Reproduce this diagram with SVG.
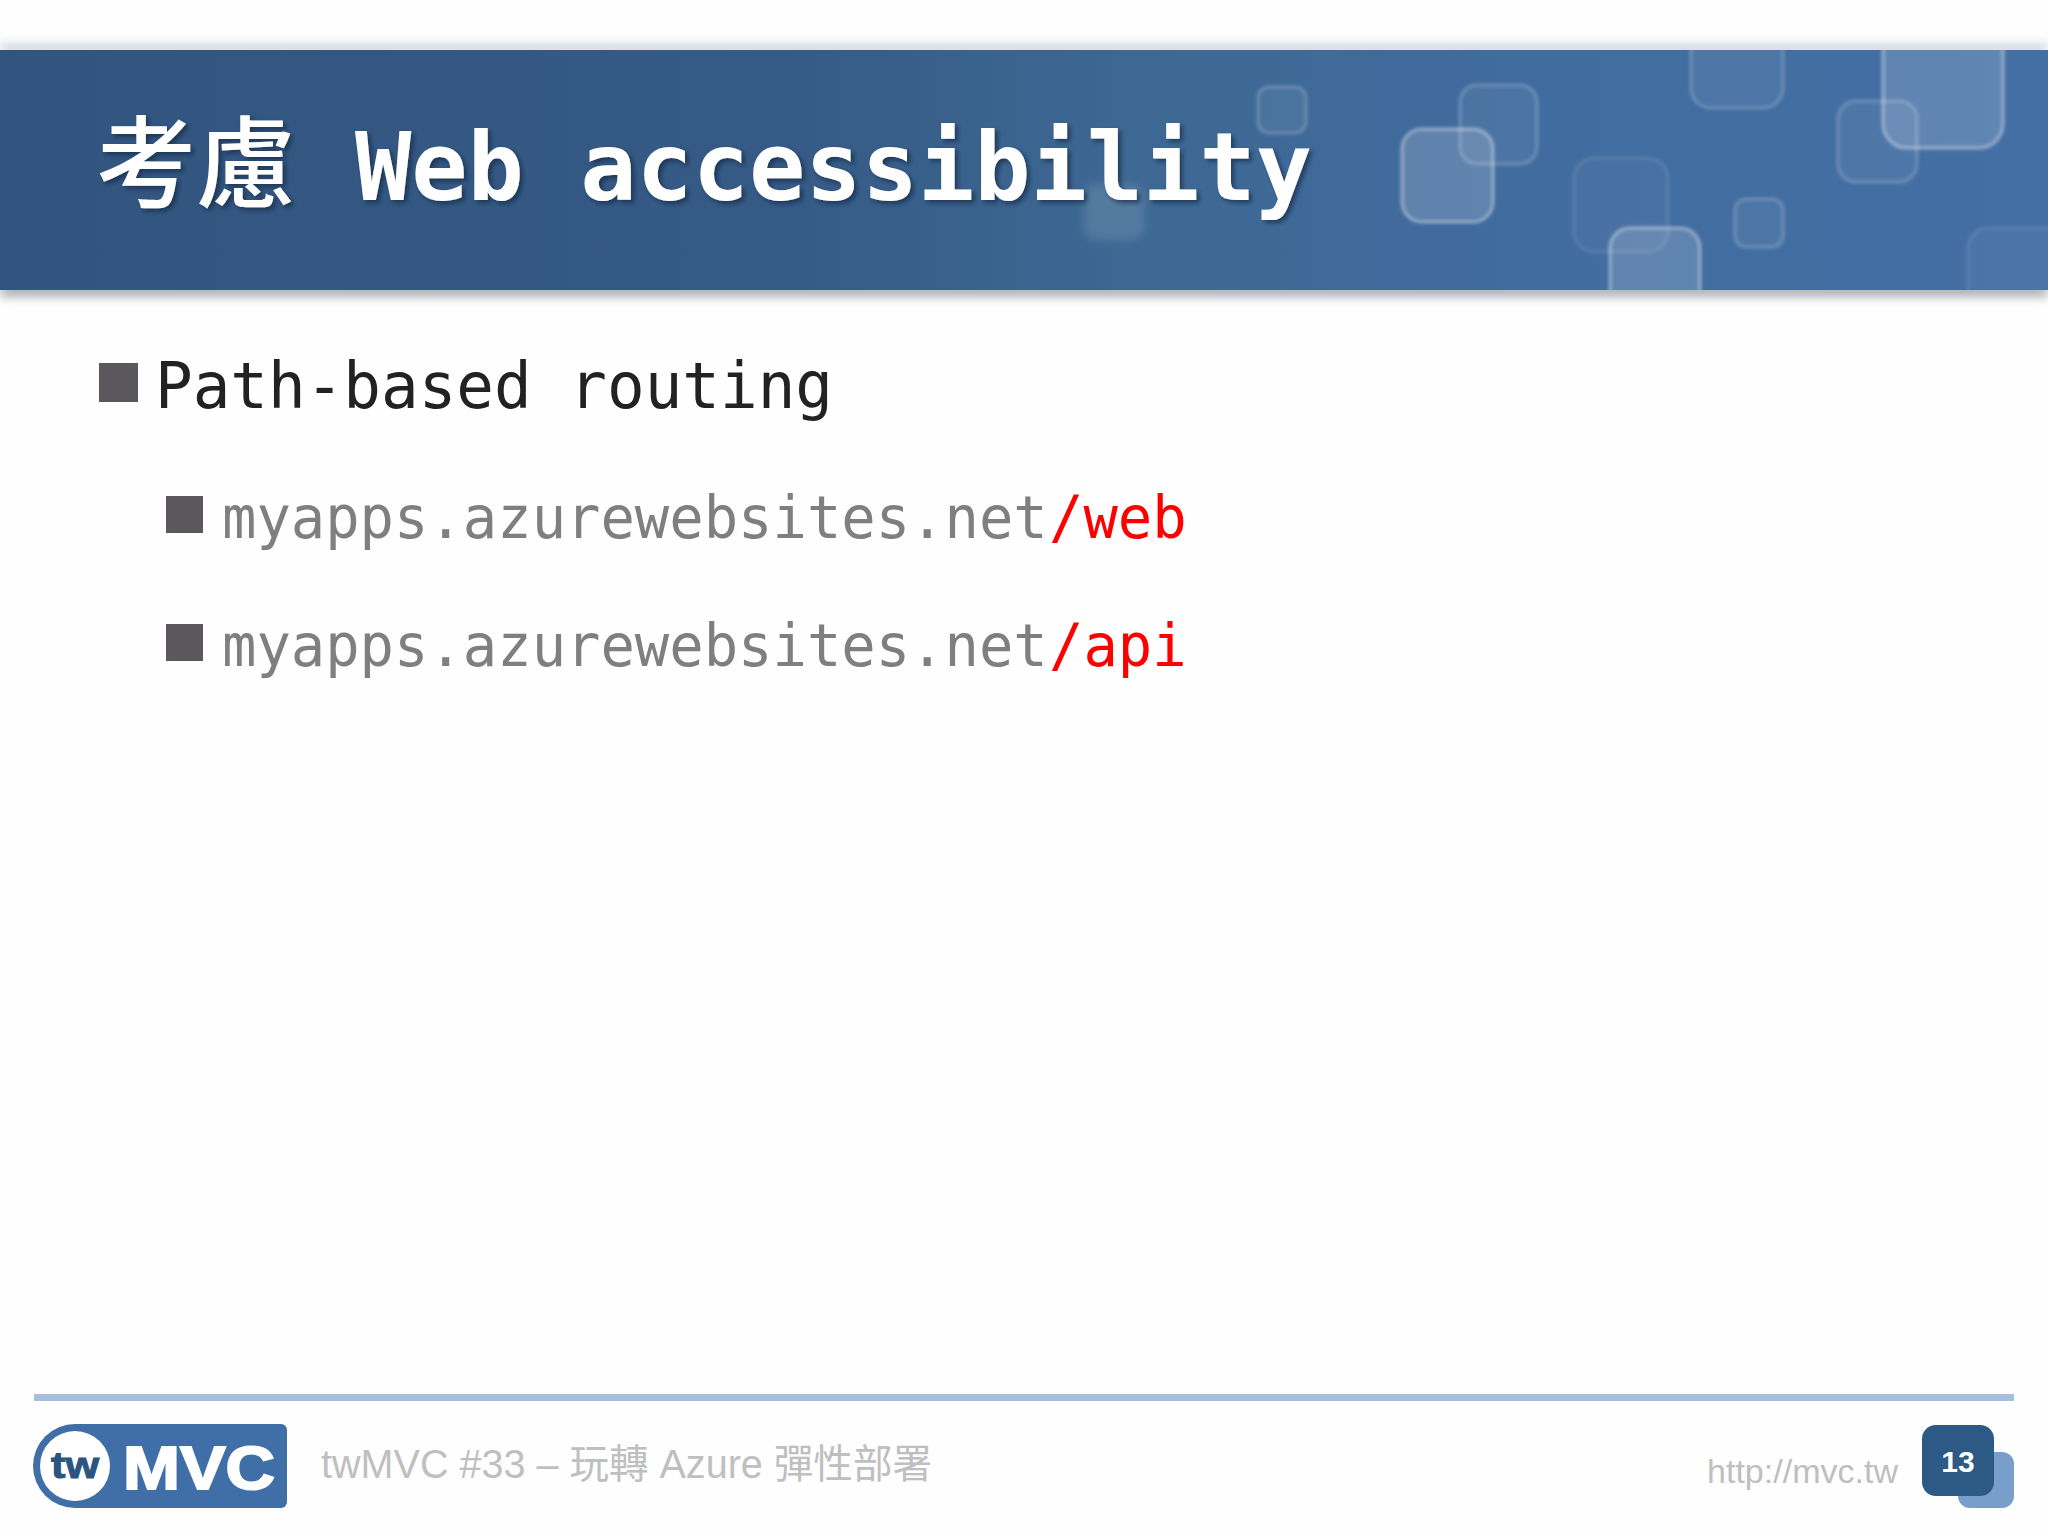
<svg xmlns="http://www.w3.org/2000/svg" width="2048" height="1536" viewBox="0 0 2048 1536">
<style>
.mono{font-family:"DejaVu Sans Mono","Liberation Mono","Noto Sans CJK TC",monospace}
.sans{font-family:"Liberation Sans","Noto Sans CJK TC",sans-serif}
.body{font-size:64px}
.sub{font-size:59px;fill:#7f7f7f}
.red{font-size:59px;fill:#f00}
.bul{fill:#5a585c}
.foot{font-size:40px;fill:#bfbfbf}
.sq{fill:#fff;fill-opacity:.06;stroke:#fff;stroke-opacity:.16;stroke-width:4}
.sqb{fill:#fff;fill-opacity:.16;stroke:#fff;stroke-opacity:.3;stroke-width:4}
.sqf{fill:#fff;fill-opacity:.035;stroke:#fff;stroke-opacity:.08;stroke-width:4}
</style>
<defs>
<linearGradient id="hdr" x1="0" x2="1" y1="0" y2="0"><stop offset="0" stop-color="#32557f"/><stop offset=".38" stop-color="#355a85"/><stop offset=".55" stop-color="#3d6893"/><stop offset=".75" stop-color="#416c9f"/><stop offset="1" stop-color="#446fa5"/></linearGradient>
<filter id="blurS" x="-20%" y="-20%" width="140%" height="140%"><feGaussianBlur stdDeviation="1.6"/></filter>
<filter id="blurL" x="-30%" y="-30%" width="160%" height="160%"><feGaussianBlur stdDeviation="5"/></filter>
<filter id="shadow" x="-10%" y="-200%" width="120%" height="500%"><feGaussianBlur stdDeviation="6"/></filter>
<filter id="ts" x="-5%" y="-20%" width="110%" height="140%"><feDropShadow dx="3" dy="3" stdDeviation="2" flood-color="#12263f" flood-opacity=".65"/></filter>
<clipPath id="hclip"><rect x="0" y="50" width="2048" height="240"/></clipPath>
</defs>
<rect width="2048" height="1536" fill="#fefefe"/>
<g id="header">
<rect x="0" y="46" width="2048" height="6" fill="#a9b6c8" filter="url(#shadow)"/>
<rect x="0" y="286" width="2048" height="9" fill="#868a8e" filter="url(#shadow)"/>
<rect x="0" y="50" width="2048" height="240" fill="url(#hdr)"/>
<g clip-path="url(#hclip)" filter="url(#blurS)">
<rect class="sq" x="1258" y="87" width="48" height="46" rx="11"/>
<rect class="sq" x="1460" y="85" width="77" height="79" rx="17"/>
<rect class="sqb" x="1402" y="129" width="91" height="93" rx="20"/>
<rect class="sqf" x="1574" y="158" width="94" height="94" rx="20"/>
<rect class="sqb" x="1610" y="228" width="90" height="100" rx="20"/>
<rect class="sq" x="1735" y="199" width="48" height="48" rx="11"/>
<rect class="sq" x="1691" y="20" width="92" height="88" rx="20"/>
<rect class="sq" x="1838" y="101" width="79" height="81" rx="18"/>
<rect class="sqb" x="1883" y="10" width="120" height="138" rx="24"/>
<rect class="sqf" x="1968" y="228" width="110" height="100" rx="20"/>
</g>
<rect x="1084" y="184" width="60" height="56" rx="12" fill="#fff" fill-opacity=".12" filter="url(#blurL)"/>
</g>
<g id="title" filter="url(#ts)" fill="#fff" font-weight="700">
<text x="96" y="200" font-size="100" font-weight="500" style="font-family:'Noto Sans CJK TC',sans-serif">考慮</text>
<text class="mono" x="355" y="200" font-size="95" textLength="957" lengthAdjust="spacingAndGlyphs">Web accessibility</text>
</g>
<g id="bullet-1">
<rect class="bul" x="99" y="363" width="39" height="39"/>
<text class="mono body" x="155" y="408" fill="#222" textLength="678" lengthAdjust="spacingAndGlyphs">Path-based routing</text>
</g>
<g id="bullet-2">
<rect class="bul" x="166" y="496" width="37" height="37"/>
<text class="mono sub" transform="translate(222 538) scale(.9687 1)">myapps.azurewebsites.net</text>
<text class="mono red" transform="translate(1049 538) scale(.9687 1)">/web</text>
</g>
<g id="bullet-3">
<rect class="bul" x="166" y="624" width="37" height="37"/>
<text class="mono sub" transform="translate(222 666) scale(.9687 1)">myapps.azurewebsites.net</text>
<text class="mono red" transform="translate(1049 666) scale(.9687 1)">/api</text>
</g>
<g id="footer">
<rect x="34" y="1394" width="1980" height="7" fill="#a6bedd"/>
<text class="sans foot" x="321" y="1478" textLength="611" lengthAdjust="spacingAndGlyphs">twMVC #33 – 玩轉 Azure 彈性部署</text>
<text class="sans" x="1707" y="1483" font-size="34" fill="#bfbfbf" textLength="191" lengthAdjust="spacingAndGlyphs">http://mvc.tw</text>
</g>
<g id="logo">
<path d="M75 1424H281a6 6 0 0 1 6 6V1502a6 6 0 0 1-6 6H75a42 42 0 0 1 0-84Z" fill="#3f6fa6"/>
<circle cx="75" cy="1466" r="35" fill="#fff"/>
<text class="sans" x="75" y="1478" font-size="37" font-weight="700" fill="#2a5580" stroke="#2a5580" stroke-width="1" text-anchor="middle" textLength="48" lengthAdjust="spacingAndGlyphs">tw</text>
<text class="sans" x="123" y="1489" font-size="62" font-weight="700" fill="#fff" stroke="#fff" stroke-width="2" textLength="152" lengthAdjust="spacingAndGlyphs">MVC</text>
</g>
<g id="page-number">
<rect x="1958" y="1452" width="56" height="56" rx="12" fill="#789fcb"/>
<rect x="1922" y="1425" width="72" height="71" rx="14" fill="#2c5a85"/>
<text class="sans" x="1958" y="1472" font-size="30" font-weight="700" fill="#fff" text-anchor="middle">13</text>
</g>
</svg>
